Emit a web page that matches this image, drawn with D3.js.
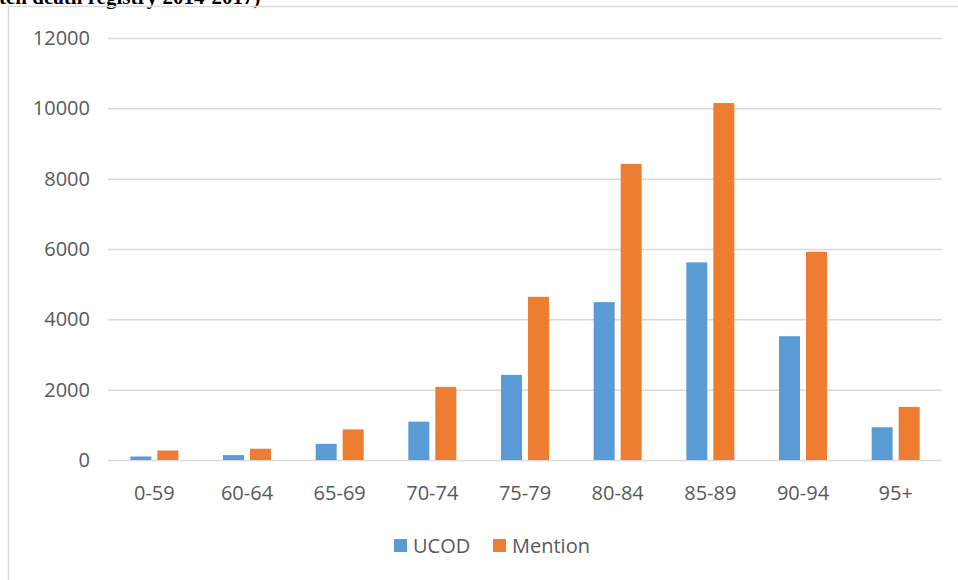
<!DOCTYPE html>
<html>
<head>
<meta charset="utf-8">
<script src="https://cdn.jsdelivr.net/npm/d3@7"></script>
<style>
  html, body { margin: 0; padding: 0; background: #fff; }
  svg { display: block; }
</style>
</head>
<body>
<svg id="chart" width="958" height="580"></svg>
<script>
// Deaths by age group: underlying cause (UCOD) vs any mention
const ageGroups = ["0-59", "60-64", "65-69", "70-74", "75-79", "80-84", "85-89", "90-94", "95+"];
const ucod    = [100, 140, 460, 1090, 2420, 4490, 5620, 3520, 930];
const mention = [270, 320, 870, 2080, 4640, 8420, 10150, 5920, 1510];
const yTicks  = [0, 2000, 4000, 6000, 8000, 10000, 12000];
const seriesNames  = ["UCOD", "Mention"];
const seriesColors = ["#5B9BD5", "#ED7D31"];

const svg = d3.select("#chart");
const W = 958, H = 580;
const plot = { left: 108, right: 942, top: 38, bottom: 460 };
const font = "'Open Sans', 'Liberation Sans', sans-serif";
const textColor = "#595959";

// Caption line running off the top of the frame
svg.append("text")
  .attr("x", -1).attr("y", 4)
  .attr("font-family", "'Liberation Serif', 'Times New Roman', serif")
  .attr("font-weight", "bold")
  .attr("font-size", 21)
  .attr("fill", "#000")
  .text("ten death registry 2014-2017)");

// Frame around the chart area
svg.append("path")
  .attr("d", `M8.5,${H} V6.5 H${W}`)
  .attr("fill", "none")
  .attr("stroke", "#d9d9d9")
  .attr("stroke-width", 1.5);

const x = d3.scaleBand().domain(ageGroups).range([plot.left, plot.right]);
const y = d3.scaleLinear().domain([0, 12000]).range([plot.bottom, plot.top]);

// Horizontal gridlines with value labels
const yAxis = d3.axisLeft(y).tickValues(yTicks).tickSize(-(plot.right - plot.left)).tickPadding(18)
  .tickFormat(d3.format("d"));
const gy = svg.append("g").attr("transform", `translate(${plot.left},0)`).call(yAxis);
gy.select(".domain").remove();
gy.selectAll(".tick line").attr("stroke", "#d9d9d9").attr("stroke-width", 1.5);
gy.selectAll(".tick text")
  .attr("font-family", font).attr("font-size", 20).attr("fill", textColor);

// Category labels under the baseline
const xAxis = d3.axisBottom(x).tickSize(0).tickPadding(26);
const gx = svg.append("g").attr("transform", `translate(0,${plot.bottom})`).call(xAxis);
gx.select(".domain").remove();
gx.selectAll(".tick text")
  .attr("font-family", font).attr("font-size", 20).attr("fill", textColor);

// Grouped bars
const barW = 21, gap = 6;
const rows = ageGroups.map((g, i) => ({ group: g, values: [ucod[i], mention[i]] }));
const groups = svg.append("g").selectAll("g").data(rows).join("g")
  .attr("transform", d => `translate(${x(d.group) + x.bandwidth() / 2},0)`);
groups.selectAll("rect")
  .data(d => d.values.map((v, s) => ({ v, s })))
  .join("rect")
  .attr("x", d => d.s === 0 ? -(barW + gap / 2) : gap / 2)
  .attr("width", barW)
  .attr("y", d => y(d.v))
  .attr("height", d => y(0) - y(d.v))
  .attr("fill", d => seriesColors[d.s]);

// Legend
const legendItems = [{ x: 394, tx: 413 }, { x: 493, tx: 512 }];
const lg = svg.append("g");
seriesNames.forEach((name, i) => {
  lg.append("rect")
    .attr("x", legendItems[i].x).attr("y", 539)
    .attr("width", 13).attr("height", 13)
    .attr("fill", seriesColors[i]);
  lg.append("text")
    .attr("x", legendItems[i].tx).attr("y", 553)
    .attr("font-family", font).attr("font-size", 20).attr("fill", textColor)
    .text(name);
});
</script>
</body>
</html>
